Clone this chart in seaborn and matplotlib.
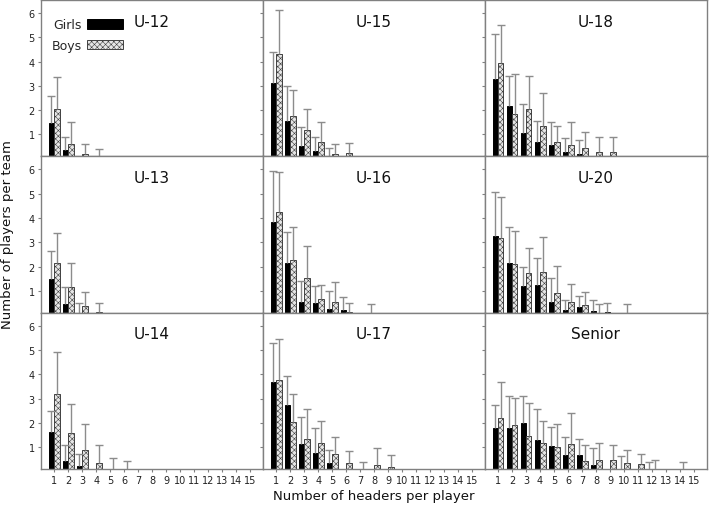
import numpy as np
import pandas as pd
import matplotlib.pyplot as plt
import seaborn as sns
from matplotlib.patches import Patch

# panels, in reading order (row by row)
groups = ['U-12', 'U-15', 'U-18', 'U-13', 'U-16', 'U-20', 'U-14', 'U-17', 'Senior']
headers = list(range(1, 16))

# mean number of players per team, and upper SD, headers 1..15
girls_u12 = [1.48, 0.38, 0, 0, 0, 0, 0, 0, 0, 0, 0, 0, 0, 0, 0]
girls_u12_sd = [1.12, 0.51, 0, 0, 0, 0, 0, 0, 0, 0, 0, 0, 0, 0, 0]
boys_u12 = [2.03, 0.62, 0.20, 0.05, 0, 0, 0, 0, 0, 0, 0, 0, 0, 0, 0]
boys_u12_sd = [1.34, 0.91, 0.42, 0.37, 0, 0, 0, 0, 0, 0, 0, 0, 0, 0, 0]

girls_u15 = [3.12, 1.55, 0.52, 0.33, 0.03, 0, 0, 0, 0, 0, 0, 0, 0, 0, 0]
girls_u15_sd = [1.28, 1.44, 0.80, 0.56, 0.41, 0, 0, 0, 0, 0, 0, 0, 0, 0, 0]
boys_u15 = [4.32, 1.77, 1.18, 0.70, 0.19, 0.23, 0, 0, 0, 0, 0, 0, 0, 0, 0]
boys_u15_sd = [1.78, 1.05, 0.87, 0.81, 0.40, 0.41, 0, 0, 0, 0, 0, 0, 0, 0, 0]

girls_u18 = [3.30, 2.19, 1.07, 0.70, 0.55, 0.30, 0.18, 0, 0, 0, 0, 0, 0, 0, 0]
girls_u18_sd = [1.85, 1.22, 1.19, 0.85, 0.96, 0.54, 0.61, 0, 0, 0, 0, 0, 0, 0, 0]
boys_u18 = [3.96, 1.85, 2.03, 1.36, 0.70, 0.55, 0.44, 0.27, 0.27, 0, 0, 0, 0, 0, 0]
boys_u18_sd = [1.56, 1.64, 1.39, 1.34, 0.64, 0.96, 0.67, 0.62, 0.62, 0, 0, 0, 0, 0, 0]

girls_u13 = [1.48, 0.45, 0.10, 0, 0, 0, 0, 0, 0, 0, 0, 0, 0, 0, 0]
girls_u13_sd = [1.14, 0.70, 0.39, 0, 0, 0, 0, 0, 0, 0, 0, 0, 0, 0, 0]
boys_u13 = [2.16, 1.15, 0.38, 0.12, 0, 0, 0, 0, 0, 0, 0, 0, 0, 0, 0]
boys_u13_sd = [1.21, 1.01, 0.58, 0.37, 0, 0, 0, 0, 0, 0, 0, 0, 0, 0, 0]

girls_u16 = [3.85, 2.14, 0.56, 0.52, 0.26, 0.22, 0, 0.08, 0, 0, 0, 0, 0, 0, 0]
girls_u16_sd = [2.08, 1.28, 0.85, 0.67, 0.75, 0.52, 0, 0.39, 0, 0, 0, 0, 0, 0, 0]
boys_u16 = [4.26, 2.27, 1.51, 0.66, 0.56, 0.14, 0, 0, 0, 0, 0, 0, 0, 0, 0]
boys_u16_sd = [1.64, 1.35, 1.35, 0.57, 0.82, 0.38, 0, 0, 0, 0, 0, 0, 0, 0, 0]

girls_u20 = [3.26, 2.14, 1.20, 1.25, 0.56, 0.22, 0.32, 0.19, 0.12, 0, 0, 0, 0, 0, 0]
girls_u20_sd = [1.79, 1.48, 0.77, 1.12, 0.95, 0.40, 0.45, 0.43, 0.40, 0, 0, 0, 0, 0, 0]
boys_u20 = [3.19, 2.10, 1.75, 1.79, 0.90, 0.53, 0.40, 0.10, 0, 0.08, 0, 0, 0, 0, 0]
boys_u20_sd = [1.65, 1.37, 1.03, 1.41, 1.12, 0.74, 0.56, 0.37, 0, 0.39, 0, 0, 0, 0, 0]

girls_u14 = [1.62, 0.44, 0.23, 0, 0, 0, 0, 0, 0, 0, 0, 0, 0, 0, 0]
girls_u14_sd = [0.88, 0.66, 0.51, 0, 0, 0, 0, 0, 0, 0, 0, 0, 0, 0, 0]
boys_u14 = [3.17, 1.59, 0.90, 0.37, 0.12, 0.08, 0, 0, 0, 0, 0, 0, 0, 0, 0]
boys_u14_sd = [1.73, 1.20, 1.05, 0.73, 0.43, 0.34, 0, 0, 0, 0, 0, 0, 0, 0, 0]

girls_u17 = [3.69, 2.73, 1.15, 0.77, 0.33, 0, 0, 0, 0, 0, 0, 0, 0, 0, 0]
girls_u17_sd = [1.58, 1.21, 1.10, 1.00, 0.57, 0, 0, 0, 0, 0, 0, 0, 0, 0, 0]
boys_u17 = [3.76, 2.02, 1.33, 1.19, 0.70, 0.37, 0.05, 0.26, 0.19, 0, 0, 0, 0, 0, 0]
boys_u17_sd = [1.70, 1.15, 1.25, 0.87, 0.73, 0.49, 0.35, 0.69, 0.47, 0, 0, 0, 0, 0, 0]

girls_senior = [1.80, 1.80, 1.98, 1.29, 1.04, 0.68, 0.68, 0.27, 0, 0.12, 0, 0.10, 0, 0, 0]
girls_senior_sd = [0.93, 1.32, 1.14, 1.29, 0.80, 0.73, 0.66, 0.68, 0, 0.51, 0, 0.30, 0, 0, 0]
boys_senior = [2.18, 1.93, 1.47, 1.19, 0.99, 1.14, 0.42, 0.48, 0.48, 0.37, 0.29, 0.11, 0, 0.05, 0]
boys_senior_sd = [1.50, 1.10, 1.33, 0.88, 0.96, 1.25, 0.68, 0.69, 0.60, 0.52, 0.45, 0.38, 0, 0.33, 0]

girls = [girls_u12, girls_u15, girls_u18, girls_u13, girls_u16, girls_u20, girls_u14, girls_u17, girls_senior]
girls_sd = [girls_u12_sd, girls_u15_sd, girls_u18_sd, girls_u13_sd, girls_u16_sd, girls_u20_sd,
            girls_u14_sd, girls_u17_sd, girls_senior_sd]
boys = [boys_u12, boys_u15, boys_u18, boys_u13, boys_u16, boys_u20, boys_u14, boys_u17, boys_senior]
boys_sd = [boys_u12_sd, boys_u15_sd, boys_u18_sd, boys_u13_sd, boys_u16_sd, boys_u20_sd,
           boys_u14_sd, boys_u17_sd, boys_senior_sd]

# long table for seaborn
rows = []
for g, name in enumerate(groups):
    for i, h in enumerate(headers):
        rows.append((name, h, 'Girls', girls[g][i], girls_sd[g][i]))
        rows.append((name, h, 'Boys', boys[g][i], boys_sd[g][i]))
df = pd.DataFrame(rows, columns=['group', 'header', 'sex', 'value', 'sd'])

sns.set_style('ticks')
plt.rcParams['font.family'] = ['DejaVu Sans']
plt.rcParams['hatch.linewidth'] = 0.4
plt.rcParams['axes.edgecolor'] = '#808080'
plt.rcParams['xtick.color'] = '#808080'
plt.rcParams['ytick.color'] = '#808080'
plt.rcParams['xtick.labelcolor'] = '#222222'
plt.rcParams['ytick.labelcolor'] = '#222222'

boys_face = '#e6e6e6'
boys_edge = '#404040'

fig, axes = plt.subplots(3, 3, sharex=True, sharey=True, figsize=(7.09, 5.06), dpi=100)
fig.subplots_adjust(left=0.058, right=0.997, top=0.998, bottom=0.071, wspace=0, hspace=0)

for ax, name in zip(axes.flat, groups):
    sub = df[df['group'] == name]
    sns.barplot(data=sub, x='header', y='value', hue='sex', hue_order=['Girls', 'Boys'],
                palette={'Girls': 'black', 'Boys': boys_face}, native_scale=True,
                width=0.78, errorbar=None, saturation=1, edgecolor='black',
                linewidth=0.7, legend=False, ax=ax)
    for bar in ax.containers[1]:
        bar.set_hatch('xxxxxx')
        bar.set_edgecolor(boys_edge)

    # upper error bars only
    for cont, sex in zip(ax.containers, ['Girls', 'Boys']):
        s = sub[sub['sex'] == sex]
        xs = np.array([p.get_x() + p.get_width() / 2 for p in cont])
        ys = s['value'].to_numpy()
        sds = s['sd'].to_numpy()
        keep = sds > 0
        _, caps, _ = ax.errorbar(xs[keep], ys[keep], yerr=[np.zeros(keep.sum()), sds[keep]],
                                 fmt='none', ecolor='#8c8c8c', elinewidth=1.0,
                                 capsize=2.8, capthick=1.0, zorder=3)
        caps[0].set_visible(False)
        caps[1].set_color('#333333')

    ax.text(0.5, 0.865, name, transform=ax.transAxes, ha='center', va='center',
            fontsize=11, color='#111111')
    ax.set_xlabel('')
    ax.set_ylabel('')
    for side in ['top', 'right', 'left', 'bottom']:
        ax.spines[side].set_visible(True)
        ax.spines[side].set_linewidth(1.0)

ax0 = axes[0, 0]
ax0.set_xlim(0.07, 15.9)
ax0.set_ylim(0.1, 6.53)
ax0.set_xticks(headers)
ax0.set_yticks([1, 2, 3, 4, 5, 6])
for ax in axes.flat:
    ax.tick_params(axis='both', direction='out', length=2.5, width=0.8, labelsize=7, pad=2)

handles = [Patch(facecolor='black', edgecolor='black', linewidth=0.7),
           Patch(facecolor=boys_face, edgecolor=boys_edge, hatch='xxxxxx', linewidth=0.7)]
ax0.legend(handles, ['Girls', 'Boys'], loc='upper left', bbox_to_anchor=(-0.005, 0.955),
           frameon=False, markerfirst=False, handlelength=2.9, handleheight=0.75,
           handletextpad=0.45, labelspacing=0.6, fontsize=9)

fig.text(0.5275, 0.018, 'Number of headers per player', ha='center', va='center',
         fontsize=9.5, color='#111111')
fig.text(0.011, 0.536, 'Number of players per team', ha='center', va='center',
         rotation=90, fontsize=9.5, color='#111111')

fig.savefig('out.png', dpi=100)
